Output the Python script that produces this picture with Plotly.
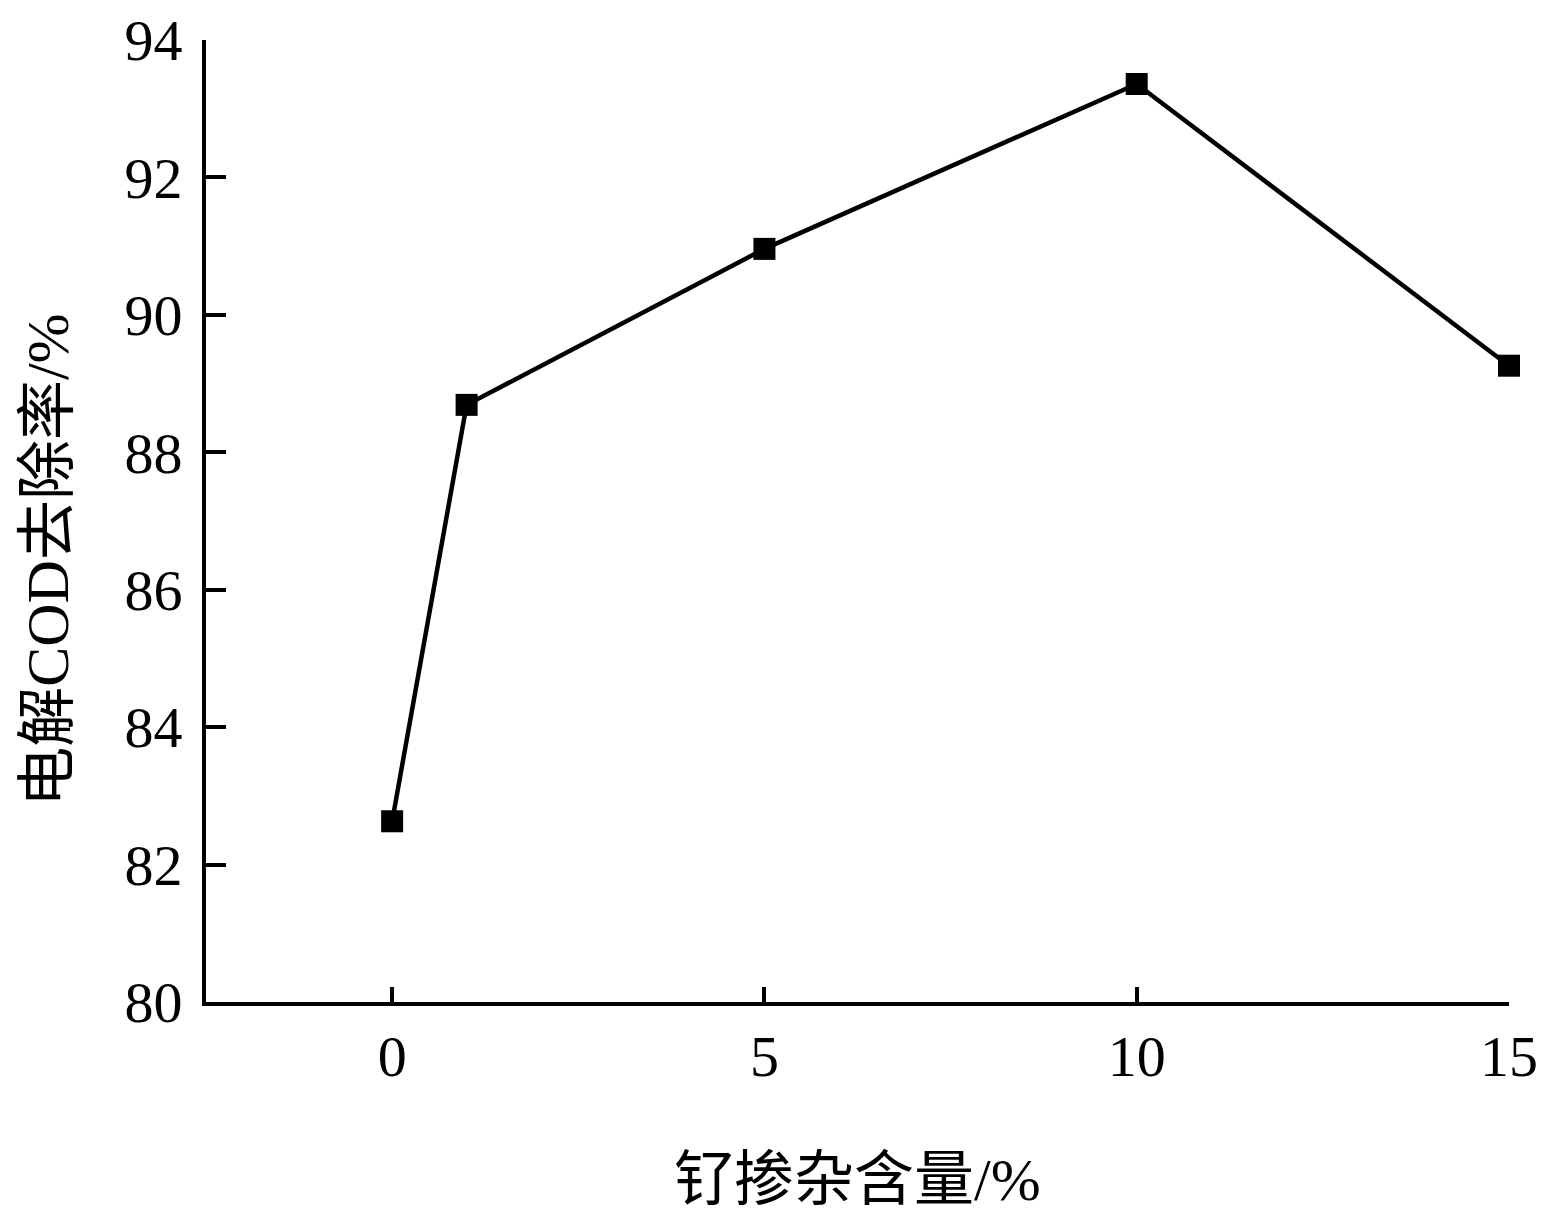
import plotly.graph_objects as go

ru_content = [0, 1, 5, 10, 15]
cod_removal = [82.63, 88.69, 90.96, 93.36, 89.26]

x_ticks = [0, 5, 10, 15]
y_ticks = [80, 82, 84, 86, 88, 90, 92, 94]

FONT = "Liberation Serif, Times New Roman, Noto Sans CJK SC, serif"

fig = go.Figure()
fig.add_trace(go.Scatter(
    x=ru_content, y=cod_removal, mode="lines+markers",
    line=dict(color="black", width=4.5),
    marker=dict(symbol="square", size=22, color="black"),
    showlegend=False, cliponaxis=False,
))

axis_common = dict(
    showline=True, linecolor="black", linewidth=4,
    ticks="inside", tickcolor="black", tickwidth=4,
    showgrid=False, zeroline=False, automargin=False,
    tickfont=dict(family=FONT, size=58, color="black"),
)

fig.update_xaxes(range=[-2.5, 15], tickvals=x_ticks, ticklen=15, **axis_common)
fig.update_yaxes(range=[80, 94], tickvals=y_ticks, ticklen=20, ticklabelstandoff=8, **axis_common)

fig.add_annotation(text="钌掺杂含量/%", xref="paper", yref="paper", x=0.5, y=-0.185,
                   yanchor="middle", xanchor="center", showarrow=False,
                   font=dict(family=FONT, size=60, color="black"))
fig.add_annotation(text="电解COD去除率/%", xref="paper", yref="paper", x=-0.121, y=0.459,
                   yanchor="middle", xanchor="center", showarrow=False, textangle=-90,
                   font=dict(family=FONT, size=60, color="black"))

fig.update_layout(
    width=1556, height=1223,
    margin=dict(l=198, r=55, t=32, b=229),
    plot_bgcolor="white", paper_bgcolor="white",
)

fig.write_html("out.html")
